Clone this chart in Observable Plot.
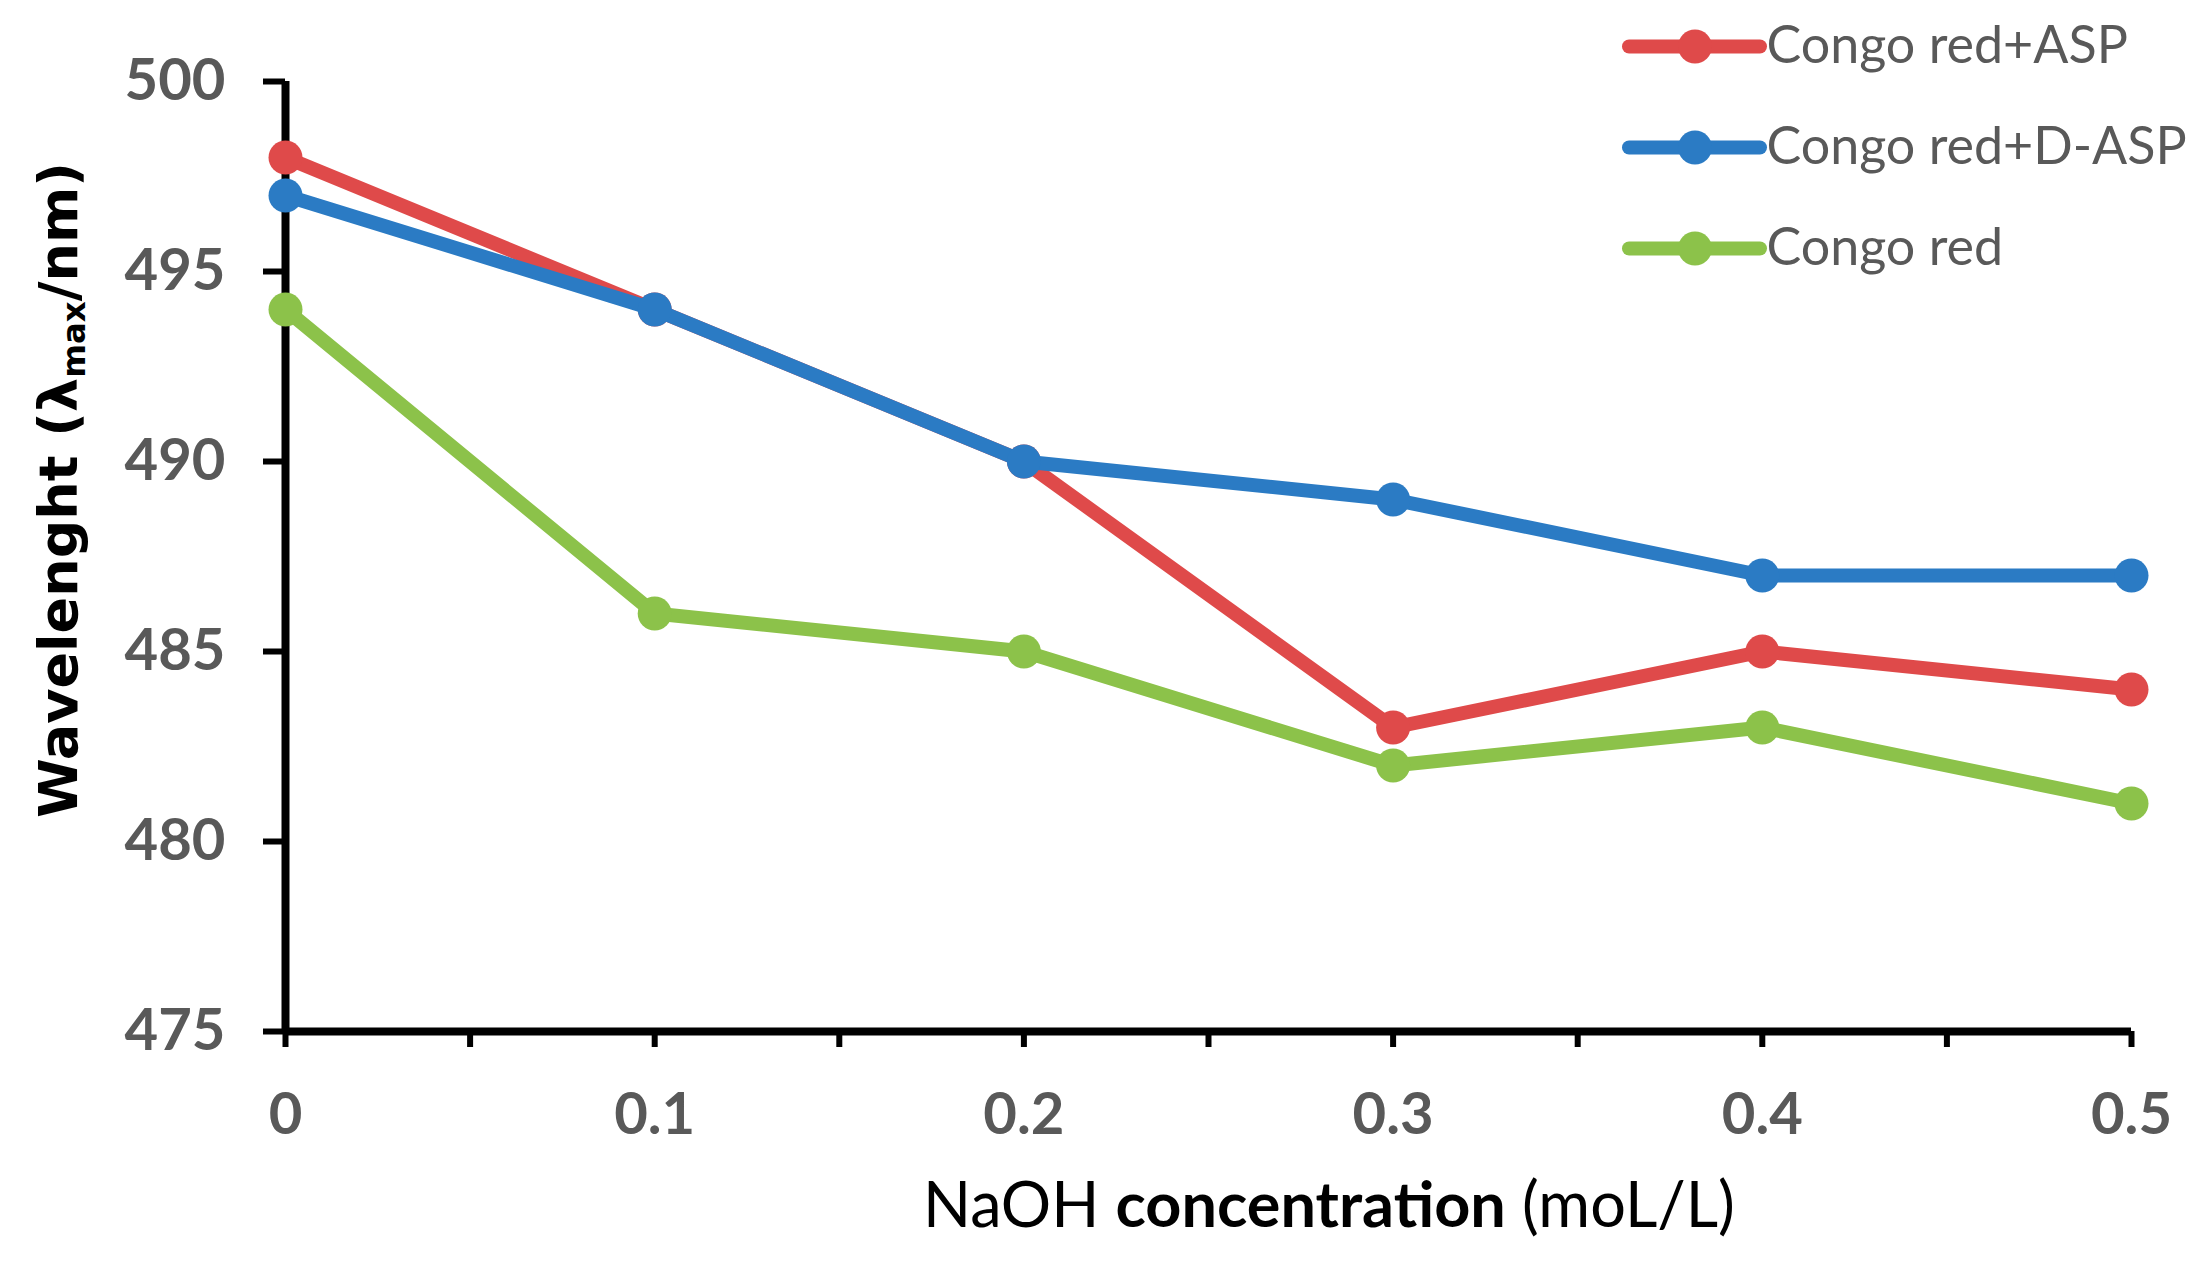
<!DOCTYPE html>
<html>
<head>
<meta charset="utf-8">
<script src="https://cdn.jsdelivr.net/npm/d3@7"></script>
<script src="https://cdn.jsdelivr.net/npm/@observablehq/plot@0.6"></script>
<style>
  html, body { margin: 0; padding: 0; background: #fff; }
  #wrap { position: relative; width: 2197px; height: 1262px; overflow: hidden; }
  #wrap svg { display: block; }
  .ytitle {
    position: absolute; left: 60px; top: 490px;
    transform: translate(-50%, -50%) rotate(-90deg);
    white-space: nowrap;
    font-family: "DejaVu Sans", sans-serif; font-weight: bold; font-size: 54px; color: #000;
  }
  .ytitle sub { font-size: 0.6em; vertical-align: -0.25em; }
  .xtitle {
    position: absolute; left: 1329px; top: 1171px;
    transform: translateX(-50%);
    white-space: nowrap;
    font-family: Lato, sans-serif; font-size: 63px; color: #000; line-height: 1;
  }
  .xtitle b { font-weight: bold; }
  #legend { position: absolute; left: 1600px; top: 0px; }
</style>
</head>
<body>
<div id="wrap">
  <div class="ytitle">Wavelenght (λ<sub>max</sub>/nm)</div>
  <div class="xtitle">NaOH <b>concentration</b> (moL/L)</div>
</div>
<script>
// ---- data ----
const naoh = [0, 0.1, 0.2, 0.3, 0.4, 0.5];
const seriesNames = ["Congo red+ASP", "Congo red+D-ASP", "Congo red"];
const asp  = [498, 494, 490, 483, 485, 484];
const dasp = [497, 494, 490, 489, 487, 487];
const congo = [494, 486, 485, 482, 483, 481];
const seriesColors = ["#DF4A4A", "#2B7BC4", "#8CC24A"];
const yTicks = [475, 480, 485, 490, 495, 500];
const xLabelTicks = [0, 0.1, 0.2, 0.3, 0.4, 0.5];
const xMinorTicks = [0, 0.05, 0.1, 0.15, 0.2, 0.25, 0.3, 0.35, 0.4, 0.45, 0.5];

const valuesBySeries = [asp, dasp, congo];
const rows = [];
seriesNames.forEach((name, i) => {
  naoh.forEach((x, j) => rows.push({series: name, x, y: valuesBySeries[i][j]}));
});
// draw order: green at bottom, then red, blue on top
const drawOrder = ["Congo red", "Congo red+ASP", "Congo red+D-ASP"];

const colorScale = {domain: seriesNames, range: seriesColors};

const marks = [];
// axes lines
marks.push(Plot.ruleX([0], {y1: 475, y2: 500, stroke: "black", strokeWidth: 8}));
marks.push(Plot.ruleY([475], {x1: 0, x2: 0.5, stroke: "black", strokeWidth: 8}));
// y ticks + labels
marks.push(Plot.axisY({
  ticks: yTicks, tickSize: 22, tickPadding: 38, stroke: "black", strokeWidth: 6,
  fill: "#595959", fontSize: 58, fontWeight: "bold", fontFamily: "Lato", label: null,
  tickFormat: d => String(d)
}));
// x minor ticks
marks.push(Plot.axisX({
  ticks: xMinorTicks, tickSize: 16, stroke: "black", strokeWidth: 6,
  tickFormat: () => "", label: null
}));
// x labels
marks.push(Plot.axisX({
  ticks: xLabelTicks, tickSize: 0, tickPadding: 61,
  fill: "#595959", fontSize: 58, fontWeight: "bold", fontFamily: "Lato", label: null,
  tickFormat: d => d === 0 ? "0" : d3.format(".1f")(d)
}));
for (const name of drawOrder) {
  const data = rows.filter(r => r.series === name);
  marks.push(Plot.line(data, {x: "x", y: "y", stroke: "series", strokeWidth: 14, strokeLinejoin: "round", strokeLinecap: "round"}));
  marks.push(Plot.dot(data, {x: "x", y: "y", fill: "series", r: 17, stroke: "none"}));
}

const chart = Plot.plot({
  width: 2197,
  height: 1262,
  marginLeft: 285,
  marginRight: 66,
  marginTop: 81,
  marginBottom: 231,
  x: {domain: [0, 0.5], axis: null},
  y: {domain: [475, 500], axis: null},
  color: colorScale,
  style: {background: "white", overflow: "visible"},
  marks
});
const wrap = document.getElementById("wrap");
wrap.insertBefore(chart, wrap.firstChild);

// ---- legend ----
const legendRows = seriesNames.map(s => ({series: s}));
const legend = Plot.plot({
  width: 597,
  height: 300,
  margin: 0,
  x: {domain: [0, 1], range: [29, 160], axis: null},
  y: {type: "point", domain: seriesNames, range: [45, 248], padding: 0, axis: null},
  color: colorScale,
  style: {background: "transparent", overflow: "visible"},
  marks: [
    Plot.ruleY(legendRows, {y: "series", x1: 0, x2: 1, stroke: "series", strokeWidth: 14, strokeLinecap: "round"}),
    Plot.dot(legendRows, {x: 0.5, y: "series", fill: "series", r: 17}),
    Plot.text(legendRows, {x: 1, y: "series", text: "series", dx: 6, textAnchor: "start",
      fill: "#595959", fontSize: 52, fontFamily: "Lato", lineAnchor: "middle"})
  ]
});
legend.id = "legend";
wrap.appendChild(legend);
</script>
</body>
</html>
